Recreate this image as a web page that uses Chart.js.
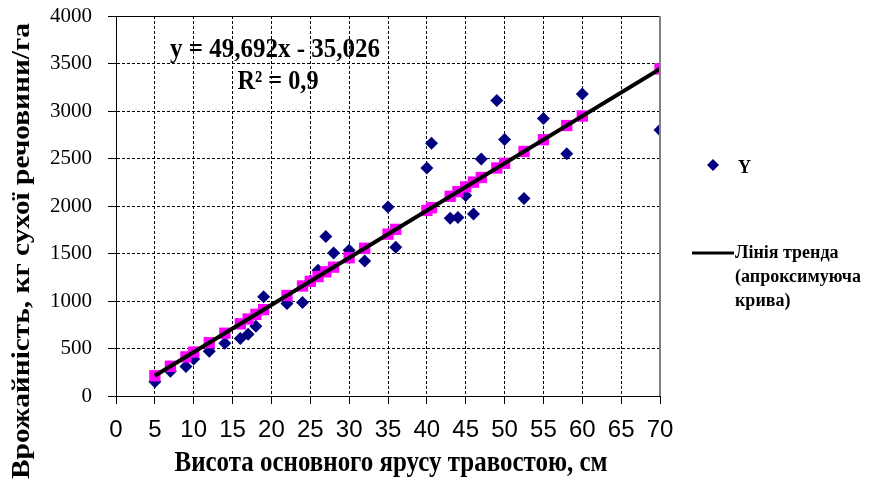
<!DOCTYPE html>
<html>
<head>
<meta charset="utf-8">
<script src="https://cdn.jsdelivr.net/npm/chart.js@4.4.1/dist/chart.umd.min.js"></script>
<style>
  html, body { margin: 0; padding: 0; background: #fff; }
  #wrap { width: 877px; height: 481px; position: relative; }
</style>
</head>
<body>
<div id="wrap"><canvas id="chart" width="877" height="481"></canvas></div>
<script>
// висота травостою, см
const heightCm = [5, 7, 9, 10, 12, 14, 16, 17, 18, 19, 22, 24, 25, 26, 27, 28, 30, 32, 35, 36,
  40, 40.6, 43, 44, 45, 46, 47, 49, 50, 52.5, 55, 58, 60, 70];
// врожайність (Y)
const yieldKg = [150, 260, 310, 390, 470, 555, 605, 650, 735, 1045, 975, 985, 1210, 1325, 1680, 1505, 1535, 1420, 1990, 1565,
  2400, 2660, 1870, 1880, 2110, 1915, 2495, 3110, 2700, 2080, 2920, 2550, 3180, 2800];
// розрахункові значення на лінії тренда
const fitted = [213, 313, 412, 462, 561, 661, 760, 810, 859, 909, 1058, 1158, 1207, 1257, 1307, 1356, 1456, 1555, 1704, 1754,
  1953, 1982, 2102, 2151, 2201, 2251, 2300, 2400, 2450, 2574, 2698, 2847, 2947, 3443];
const trendX = [5, 70];
const trendY = [214, 3443];
const xTicks = [0, 70, 5];     // min, max, step
const yTicks = [0, 4000, 500];

const xTitle = "Висота основного ярусу травостою, см";
const yTitle = "Врожайність, кг сухої речовини/га";

const serif = "'Liberation Serif', 'Times New Roman', serif";
const narrow = "'Liberation Sans Narrow', 'Arial Narrow', 'Liberation Sans', sans-serif";

// текст, розтягнутий по висоті, як на оригіналі
function stretchedText(ctx, text, x, y, width, sy) {
  ctx.save();
  ctx.translate(x, y);
  const w = ctx.measureText(text).width;
  ctx.scale(width / w, sy);
  ctx.fillText(text, 0, 0);
  ctx.restore();
}

const overlay = {
  id: "overlay",
  afterDraw(chart) {
    const { ctx, chartArea: a } = chart;
    ctx.save();
    // рамка: верх чорний, праворуч сірий
    ctx.strokeStyle = "#000";
    ctx.lineWidth = 1;
    ctx.beginPath();
    ctx.moveTo(a.left, a.top + 0.5);
    ctx.lineTo(a.right, a.top + 0.5);
    ctx.stroke();
    ctx.strokeStyle = "#808080";
    ctx.lineWidth = 2;
    ctx.beginPath();
    ctx.moveTo(a.right, a.top);
    ctx.lineTo(a.right, a.bottom);
    ctx.stroke();

    ctx.fillStyle = "#000";
    ctx.textAlign = "center";
    ctx.textBaseline = "middle";

    // підписи осей
    ctx.font = "bold 25px " + serif;
    stretchedText(ctx, xTitle, 391, 464, 433, 1.15);
    ctx.save();
    ctx.translate(22, 251);
    ctx.rotate(-Math.PI / 2);
    const yw = ctx.measureText(yTitle).width;
    ctx.scale(456 / yw, 1.05);
    ctx.fillText(yTitle, 0, 0);
    ctx.restore();

    // рівняння
    ctx.font = "bold 24px " + serif;
    stretchedText(ctx, "y = 49,692x - 35,026", 275, 50, 210, 1.1);
    stretchedText(ctx, "R² = 0,9", 278, 82, 81, 1.1);

    // легенда
    ctx.fillStyle = "#000080";
    ctx.beginPath();
    ctx.moveTo(713, 159);
    ctx.lineTo(719, 165);
    ctx.lineTo(713, 171);
    ctx.lineTo(707, 165);
    ctx.closePath();
    ctx.fill();
    ctx.fillStyle = "#000";
    ctx.textAlign = "left";
    ctx.font = "bold 18px " + serif;
    ctx.fillText("Y", 738, 168);

    ctx.strokeStyle = "#000";
    ctx.lineWidth = 3;
    ctx.beginPath();
    ctx.moveTo(692, 253);
    ctx.lineTo(734, 253);
    ctx.stroke();
    ctx.fillText("Лінія тренда", 735, 253);
    ctx.fillText("(апроксимуюча", 735, 277);
    ctx.fillText("крива)", 735, 301);
    ctx.restore();
  }
};

new Chart(document.getElementById("chart"), {
  type: "scatter",
  data: {
    datasets: [
      {
        label: "Лінія тренда (апроксимуюча крива)",
        type: "line",
        data: trendX.map((x, i) => ({ x, y: trendY[i] })),
        borderColor: "#000",
        borderWidth: 4,
        pointRadius: 0,
        fill: false,
        order: 0,
      },
      {
        label: "Прогноз",
        data: heightCm.map((x, i) => ({ x, y: fitted[i] })),
        pointStyle: "rect",
        pointRadius: 8,
        backgroundColor: "#FF00FF",
        borderColor: "#FF00FF",
        borderWidth: 0,
        order: 1,
      },
      {
        label: "Y",
        data: heightCm.map((x, i) => ({ x, y: yieldKg[i] })),
        pointStyle: "rectRot",
        pointRadius: 6.5,
        backgroundColor: "#000080",
        borderColor: "#000080",
        borderWidth: 0,
        order: 2,
      },
    ],
  },
  options: {
    responsive: false,
    animation: false,
    events: [],
    layout: { padding: { left: 0, right: 217, top: 16, bottom: 0 } },
    plugins: { legend: { display: false }, tooltip: { enabled: false } },
    scales: {
      x: {
        type: "linear",
        min: xTicks[0],
        max: xTicks[1],
        ticks: { stepSize: xTicks[2], color: "#000", padding: 12, font: { family: narrow, size: 24 } },
        grid: { color: "#000", lineWidth: 1, tickLength: 8 },
        border: { color: "#000", width: 1, dash: [3, 2] },
        afterFit(scale) { scale.height = 85; },
      },
      y: {
        min: yTicks[0],
        max: yTicks[1],
        ticks: {
          stepSize: yTicks[2], color: "#000", padding: 16, font: { family: serif, size: 21 },
          callback: (v) => String(v),
        },
        grid: { color: "#000", lineWidth: 1, tickLength: 8 },
        border: { color: "#000", width: 1, dash: [3, 2] },
        afterFit(scale) {
          scale.width = 116;
          scale.paddingTop = 0;
          scale.paddingBottom = 0;
        },
      },
    },
  },
  plugins: [overlay],
});
</script>
</body>
</html>
